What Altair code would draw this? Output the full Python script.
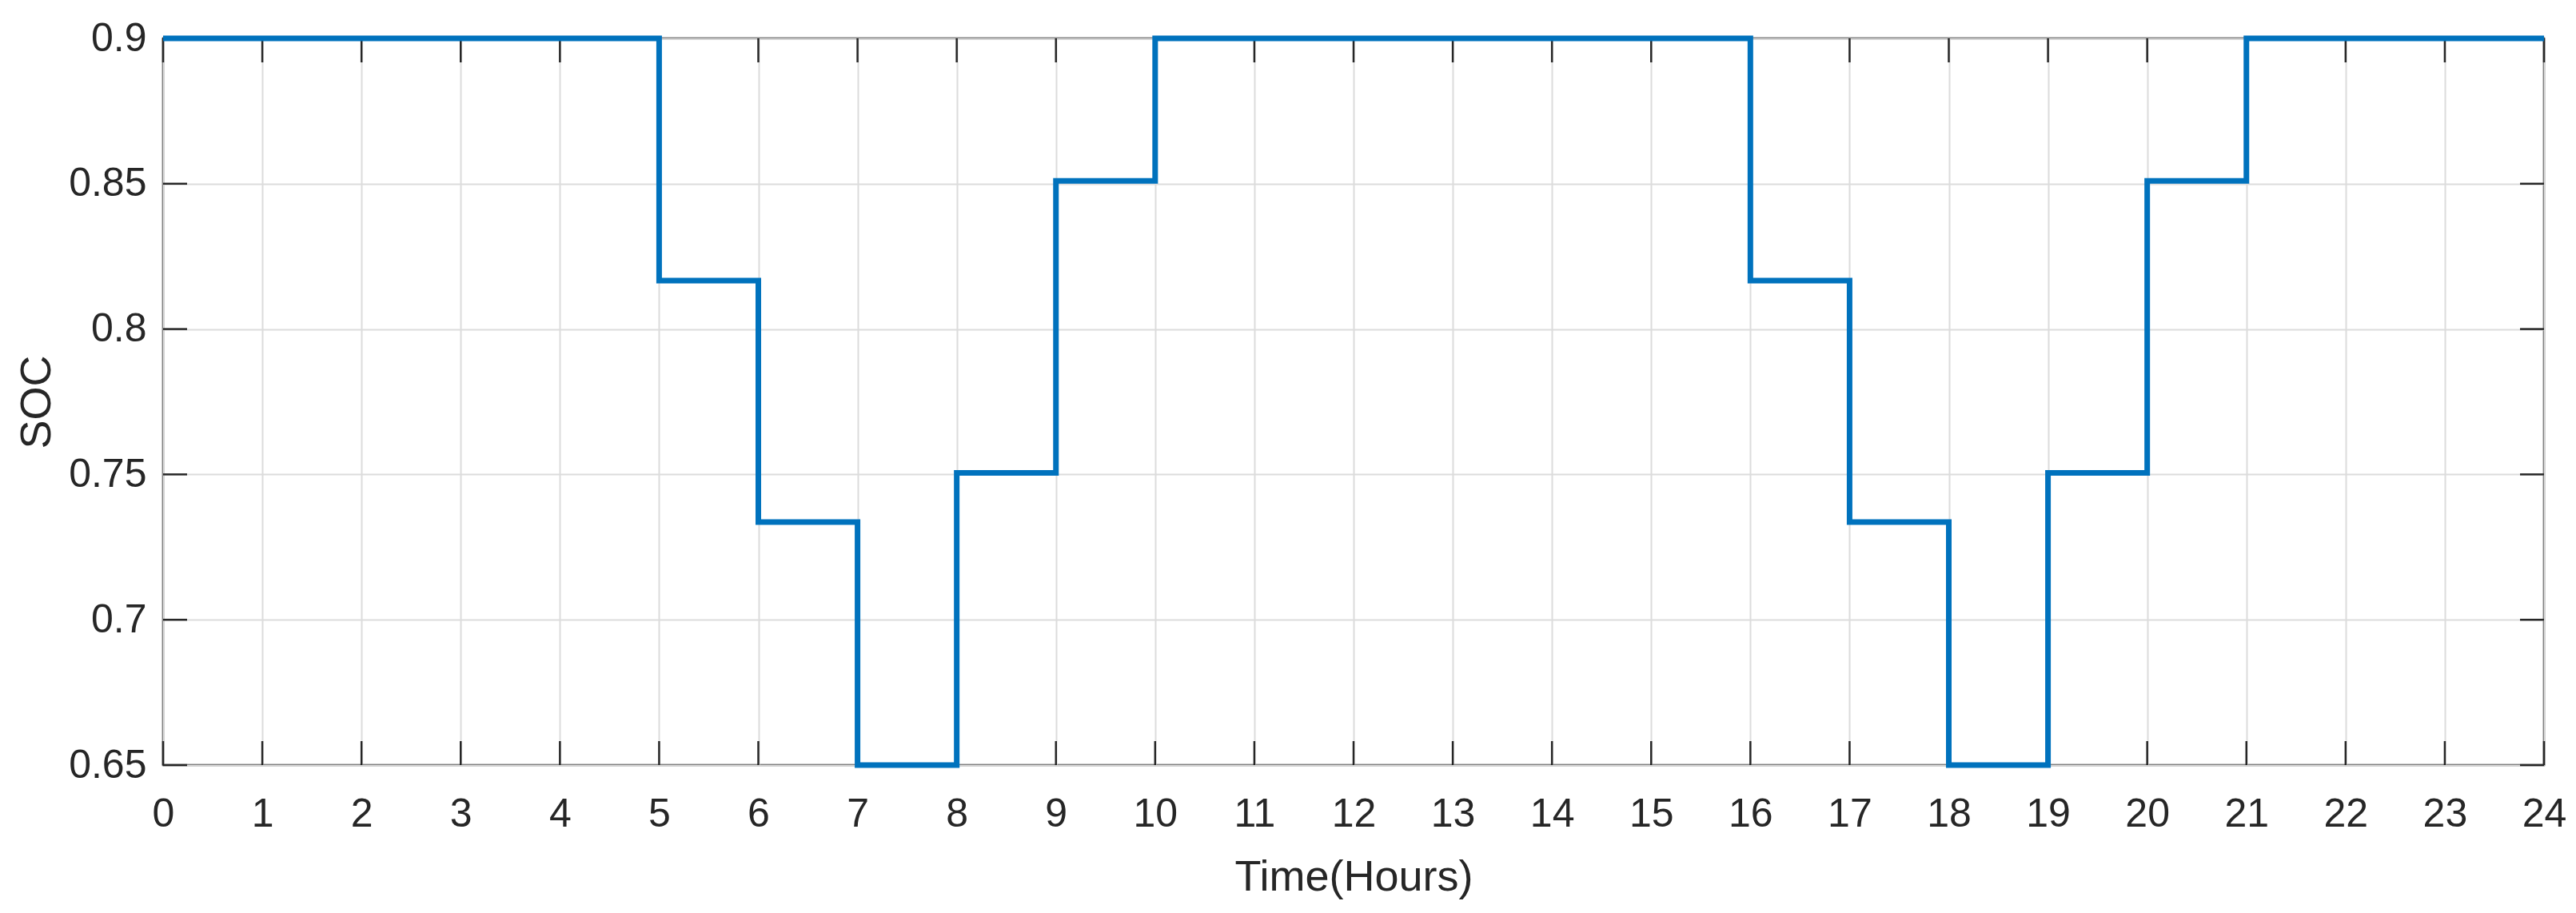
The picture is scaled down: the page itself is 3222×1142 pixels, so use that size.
import altair as alt
import pandas as pd

# Step-wise SOC profile (value holds from each hour until the next listed hour)
hours = [0, 5, 6, 7, 8, 9, 10, 16, 17, 18, 19, 20, 21, 24]
soc = [0.9, 0.8167, 0.7336, 0.65, 0.7505, 0.851, 0.9,
       0.8167, 0.7336, 0.65, 0.7505, 0.851, 0.9, 0.9]

x_ticks = list(range(0, 25))
y_ticks = [0.65, 0.7, 0.75, 0.8, 0.85, 0.9]

W, H = 2978, 909
TICK_LEN = 30
AX_COLOR = "#262626"
FONT = "Liberation Sans"

df = pd.DataFrame({"hour": hours, "soc": soc})
xt = pd.DataFrame({"t": x_ticks})
yt = pd.DataFrame({"v": y_ticks})

xscale = alt.Scale(domain=[0, 24], nice=False, zero=False)
yscale = alt.Scale(domain=[0.65, 0.9], nice=False, zero=False)

line = alt.Chart(df).mark_line(
    interpolate="step-after", color="#0072BD", strokeWidth=7, clip=False
).encode(
    x=alt.X("hour:Q", scale=xscale,
            axis=alt.Axis(values=x_ticks, format="d", title="Time(Hours)",
                          grid=True, gridColor="#dcdcdc", gridWidth=2,
                          ticks=False, domain=False, labelOverlap=False,
                          labelFlush=False,
                          labelPadding=36, labelFontSize=50, labelFont=FONT,
                          labelColor=AX_COLOR, titleFont=FONT, titleFontSize=54,
                          titleFontWeight="normal", titleColor=AX_COLOR,
                          titleY=156, titleBaseline="alphabetic")),
    y=alt.Y("soc:Q", scale=yscale,
            axis=alt.Axis(values=y_ticks, format="~g", title="SOC",
                          grid=True, gridColor="#dcdcdc", gridWidth=2,
                          ticks=False, domain=False, labelOverlap=False,
                          labelFlush=False,
                          labelPadding=21, labelFontSize=50, labelFont=FONT,
                          labelColor=AX_COLOR, titleFont=FONT, titleFontSize=54,
                          titleFontWeight="normal", titleColor=AX_COLOR,
                          titleX=-142, titleY=H / 2, titleAngle=-90,
                          titleAlign="center", titleBaseline="alphabetic")),
)

tick_style = dict(color=AX_COLOR, strokeWidth=2.5)

xb = alt.Chart(xt).mark_rule(**tick_style).encode(
    x=alt.X("t:Q", scale=xscale), y=alt.value(H), y2=alt.value(H - TICK_LEN))
xtop = alt.Chart(xt).mark_rule(**tick_style).encode(
    x=alt.X("t:Q", scale=xscale), y=alt.value(0), y2=alt.value(TICK_LEN))
yl = alt.Chart(yt).mark_rule(**tick_style).encode(
    y=alt.Y("v:Q", scale=yscale), x=alt.value(0), x2=alt.value(TICK_LEN))
yr = alt.Chart(yt).mark_rule(**tick_style).encode(
    y=alt.Y("v:Q", scale=yscale), x=alt.value(W - TICK_LEN), x2=alt.value(W))

chart = alt.layer(xb, xtop, yl, yr, line).properties(
    width=W, height=H,
    autosize=alt.AutoSizeParams(type="none"),
    padding={"left": 196, "top": 40, "right": 31, "bottom": 175},
    background="white",
).configure_view(stroke=AX_COLOR, strokeWidth=2.5)

chart.save("out.html", embed_options={"renderer": "svg", "actions": False})
